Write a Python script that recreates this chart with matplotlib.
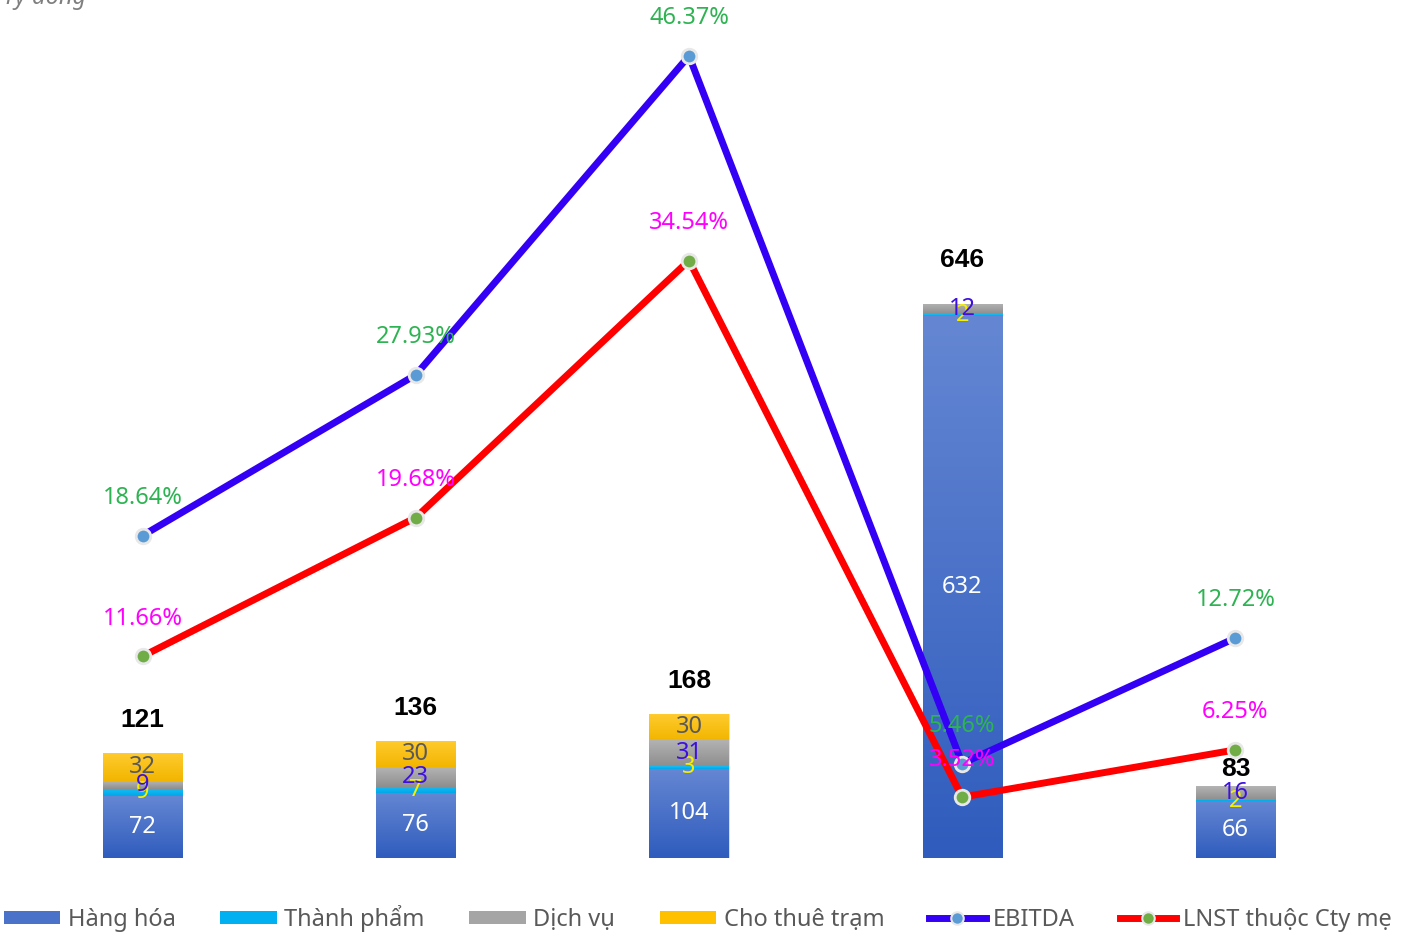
import matplotlib
matplotlib.use('Agg')
import matplotlib.pyplot as plt
import numpy as np
from matplotlib.colors import LinearSegmentedColormap
from matplotlib.patches import Patch
from matplotlib.lines import Line2D

plt.rcParams['font.family'] = ['Noto Sans', 'DejaVu Sans']

# du lieu doc tu hinh
ky = ['2019', '2020', '2021', '2022', '2023']
hang_hoa = [72, 76, 104, 632, 66]
thanh_pham = [9, 7, 3, 2, 2]
dich_vu = [9, 23, 31, 12, 16]
cho_thue = [32, 30, 30, 0, 0]
tong = [121, 136, 168, 646, 83]
ebitda = [18.64, 27.93, 46.37, 5.46, 12.72]
lnst = [11.66, 19.68, 34.54, 3.52, 6.25]

# offset (px) cua nhan tong so so voi dinh cot
tong_off = [33, 33, 33, 44, 17]

mau = {
    'hh': ('#6587d3', '#2f5cbd'),
    'tp': ('#19bdf5', '#00a8e8'),
    'dv': ('#b4b4b4', '#8e8e8e'),
    'ct': ('#ffcb2e', '#f2b500'),
}
mau_nhan = {'hh': 'white', 'tp': '#f5f000', 'dv': '#3d10e0', 'ct': '#595959'}


def cot_gradient(ax, patch, c_top, c_bot):
    x0, y0 = patch.get_xy()
    w = patch.get_width()
    h = patch.get_height()
    if h <= 0:
        return
    cmap = LinearSegmentedColormap.from_list('g', [c_bot, c_top])
    img = ax.imshow(np.linspace(0, 1, 256).reshape(-1, 1), cmap=cmap,
                    extent=[x0, x0 + w, y0, y0 + h], origin='lower',
                    aspect='auto', zorder=patch.get_zorder() + 0.1)
    img.set_clip_path(patch)


fig = plt.figure(figsize=(14.1, 9.36), dpi=100)
ax = fig.add_axes([6 / 1410, 78 / 936, 1366 / 1410, 858 / 936])
x = np.arange(len(ky))
w = 0.29

day = np.zeros(len(ky))
for key, vals in [('hh', hang_hoa), ('tp', thanh_pham), ('dv', dich_vu), ('ct', cho_thue)]:
    bars = ax.bar(x, vals, w, bottom=day, color=mau[key][1], edgecolor='#dfe6f5',
                  linewidth=0.6, zorder=2)
    for b in bars:
        cot_gradient(ax, b, *mau[key])
    for i, v in enumerate(vals):
        if v > 0:
            ax.text(x[i], day[i] + v / 2, str(v), ha='center', va='center',
                    fontsize=17, color=mau_nhan[key], zorder=5)
    day = day + np.array(vals)

for i, t in enumerate(tong):
    ax.annotate(str(t), (x[i], day[i]), xytext=(0, tong_off[i] * 0.72),
                textcoords='offset points', ha='center', va='center',
                fontsize=19, fontweight='bold', family='Liberation Sans',
                color='black', zorder=6)

ax.set_xlim(-0.5, len(ky) - 0.5)
ax.set_ylim(0, 1000)
ax.axis('off')

ax2 = ax.twinx()
ax2.set_ylim(0, 49.6)
ax2.axis('off')
ax2.plot(x, ebitda, color='#3300f5', lw=5, marker='o', ms=10.5,
         mfc='#5b9bd5', mec='#e8e8e8', mew=2, zorder=3, solid_capstyle='round')
ax2.plot(x, lnst, color='#ff0000', lw=5, marker='o', ms=10.5,
         mfc='#70ad47', mec='#e8e8e8', mew=2, zorder=4, solid_capstyle='round')
for i in range(len(ky)):
    ax2.annotate('%.2f%%' % ebitda[i], (x[i], ebitda[i]), xytext=(0, 27),
                 textcoords='offset points', ha='center', va='center',
                 fontsize=17, color='#2eb352', zorder=7)
    ax2.annotate('%.2f%%' % lnst[i], (x[i], lnst[i]), xytext=(0, 27),
                 textcoords='offset points', ha='center', va='center',
                 fontsize=17, color='#ff00ff', zorder=7)

fig.text(0.002, 1.003, 'Tỷ đồng', ha='left', va='center', fontsize=17,
         style='italic', color='#7f7f7f')

handles = [
    Patch(facecolor='#4a72c8', label='Hàng hóa'),
    Patch(facecolor='#00b0f0', label='Thành phẩm'),
    Patch(facecolor='#a5a5a5', label='Dịch vụ'),
    Patch(facecolor='#ffc000', label='Cho thuê trạm'),
    Line2D([], [], color='#3300f5', lw=5, marker='o', ms=9, mfc='#5b9bd5',
           mec='#e8e8e8', mew=1.5, label='EBITDA'),
    Line2D([], [], color='#ff0000', lw=5, marker='o', ms=9, mfc='#70ad47',
           mec='#e8e8e8', mew=1.5, label='LNST thuộc Cty mẹ'),
]
fig.legend(handles=handles, loc='center', bbox_to_anchor=(0.495, 0.019), ncol=6,
           frameon=False, fontsize=17, labelcolor='#595959', handlelength=2.4,
           handleheight=0.5, handletextpad=0.3, columnspacing=1.9)

plt.savefig('out.png', dpi=100)
